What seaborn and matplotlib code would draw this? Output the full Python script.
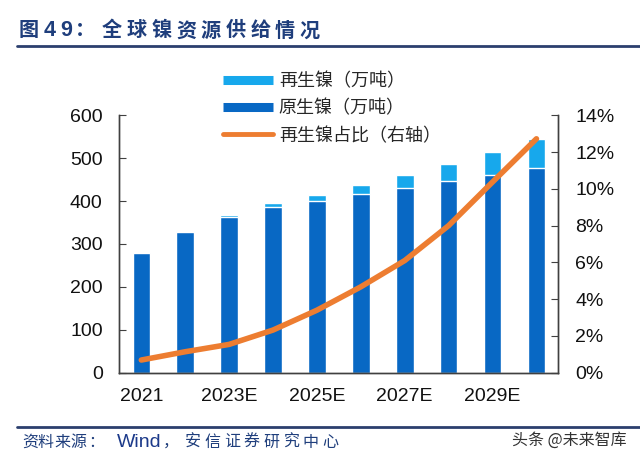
import numpy as np
import pandas as pd
import matplotlib
matplotlib.use('Agg')
import matplotlib.pyplot as plt
from matplotlib.lines import Line2D
from matplotlib.ticker import FuncFormatter
import seaborn as sns

years = ['2021', '2022E', '2023E', '2024E', '2025E', '2026E', '2027E', '2028E', '2029E', '2030E']
tick_labels = ['2021', '', '2023E', '', '2025E', '', '2027E', '', '2029E', '']
primary_ni = [279, 328, 363, 386, 400, 416, 431, 447, 460, 476]      # 原生镍（万吨）
recycled_ni = [0.5, 1.5, 5, 8.5, 14, 20.5, 29.5, 40, 55, 69]         # 再生镍（万吨）
recycled_share = [0.69, 1.14, 1.54, 2.32, 3.4, 4.67, 6.1, 8.0, 10.37, 12.72]  # 再生镍占比 %

sns.set_style('white')
plt.rcParams['font.family'] = ['Liberation Sans', 'Noto Sans CJK SC', 'DejaVu Sans']

W, H = 640, 461
LIGHT = '#17A8EC'
DARK = '#0868C4'
ORANGE = '#ED7D31'
NAVY = '#1F3E7C'

df = pd.DataFrame({'year': years, 'primary': primary_ni, 'recycled': recycled_ni,
                   'share': recycled_share})
df['total'] = df['primary'] + df['recycled']
df['pos'] = np.arange(len(df))

fig = plt.figure(figsize=(W / 100, H / 100), dpi=100)
ax = fig.add_axes([0.1865, 0.1915, 0.686, 0.5585])

# stacked bars: total (recycled on top) drawn first, primary over it
sns.barplot(data=df, x='year', y='total', color=LIGHT, width=0.4, saturation=1, ax=ax)
sns.barplot(data=df, x='year', y='primary', color=DARK, width=0.4, saturation=1, ax=ax)

ax.set_xlim(-0.5, len(df) - 0.5)
ax.set_ylim(0, 600)
ax.set_yticks(range(0, 601, 100))
ax.set_xticks(df['pos'])
ax.set_xticklabels(tick_labels)
ax.set_xticks(np.arange(0.5, len(df) - 1, 1), minor=True)
ax.set_xlabel('')
ax.set_ylabel('')
ax.tick_params(axis='x', which='major', length=0, pad=11, labelsize=14, colors='#111111')
ax.tick_params(axis='x', which='minor', direction='in', length=5, color='#404040')
ax.tick_params(axis='y', direction='in', length=5, pad=12, labelsize=14, colors='#111111')
ax.tick_params(axis='y', color='#404040')

ax2 = ax.twinx()
sns.lineplot(data=df, x='pos', y='share', color=ORANGE, linewidth=4, ax=ax2,
             solid_capstyle='round')
ax2.set_ylim(0, 14)
ax2.set_yticks(range(0, 15, 2))
ax2.yaxis.set_major_formatter(FuncFormatter(lambda v, p: f'{v:.0f}%'))
ax2.set_ylabel('')
ax2.tick_params(axis='y', direction='in', length=5, pad=12, labelsize=14, colors='#111111')
ax2.tick_params(axis='y', color='#404040')
ax.set_xlim(-0.5, len(df) - 0.5)

for a in (ax, ax2):
    a.grid(False)
    a.spines['top'].set_visible(False)
    for s in ('left', 'right', 'bottom'):
        a.spines[s].set_color('#404040')
        a.spines[s].set_linewidth(1)

handles = [
    Line2D([], [], color=LIGHT, linewidth=6.5, solid_capstyle='butt'),
    Line2D([], [], color=DARK, linewidth=6.5, solid_capstyle='butt'),
    Line2D([], [], color=ORANGE, linewidth=3.5, solid_capstyle='round'),
]
labels = ['再生镍（万吨）', '原生镍（万吨）', '再生镍占比（右轴）']
fig.legend(handles, labels, loc='upper left', bbox_to_anchor=(0.337, 0.857),
           frameon=False, fontsize=13, handlelength=2.75, handletextpad=0.35,
           labelspacing=0.54, borderaxespad=0)


def spaced(chars, xs_px, y, **kw):
    # letter-spaced text, one glyph at a time
    for ch, x in zip(chars, xs_px):
        fig.text(x / W, y, ch, va='center', ha='left', **kw)


# header
title_kw = dict(fontsize=14.5, fontweight='bold', color=NAVY, family=['Noto Sans CJK SC'])
spaced(['图'], [19], 1 - 30 / H, **title_kw)
spaced(['4', '9'], [44, 60], 1 - 30 / H, fontsize=15.5, fontweight='bold', color=NAVY,
       family=['Liberation Sans'])
spaced(['：'], [75], 1 - 30 / H, **title_kw)
title_body = '全球镍资源供给情况'
spaced(list(title_body), [102 + 24.7 * i for i in range(len(title_body))], 1 - 30 / H,
       **title_kw)
fig.add_artist(Line2D([17 / W, 1.0], [1 - 46 / H, 1 - 46 / H], color='#2B3F6E', linewidth=2))

# footer
fig.add_artist(Line2D([17 / W, 1.0], [1 - 427 / H, 1 - 427 / H], color='#2B3F6E', linewidth=2))
foot_y = 1 - 442 / H
foot_kw = dict(fontsize=11.5, color=NAVY, style='italic', family=['Noto Sans CJK SC'])
spaced(list('资料来源：'), [22, 38, 54, 70, 88], foot_y, **foot_kw)
fig.text(117 / W, foot_y, 'Wind', fontsize=14, color='#1C3A8A', va='center', ha='left')
spaced(['，'], [163], foot_y, **foot_kw)
foot_body = '安信证券研究中心'
spaced(list(foot_body), [185 + 19.6 * i for i in range(len(foot_body))], foot_y, **foot_kw)
fig.text(627 / W, 1 - 440 / H, '头条 @未来智库', fontsize=11.5, color='#333333',
         va='center', ha='right', family=['Noto Sans CJK SC', 'DejaVu Sans'])

fig.savefig('out.png', dpi=100)
